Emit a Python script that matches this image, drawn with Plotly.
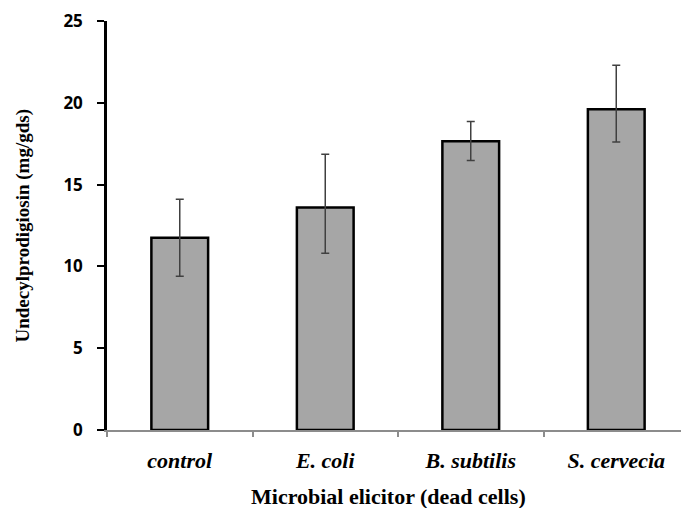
import plotly.graph_objects as go

categories = ["control", "E. coli", "B. subtilis", "S. cervecia"]
values = [11.75, 13.6, 17.65, 19.6]
err_plus = [2.35, 3.25, 1.2, 2.7]
err_minus = [2.35, 2.8, 1.17, 2.0]
y_ticks = [0, 5, 10, 15, 20, 25]

fig = go.Figure()
fig.add_trace(go.Bar(
    x=categories, y=values, width=0.39,
    marker=dict(color="#a6a6a6", line=dict(color="black", width=2.5)),
    error_y=dict(type="data", symmetric=False, array=err_plus, arrayminus=err_minus,
                 color="#404040", thickness=1.5, width=4),
))

# page body has an 8px margin, so the figure is sized 681x500
fig.update_layout(
    width=681, height=500,
    margin=dict(l=99, r=0, t=13, b=78, autoexpand=False),
    plot_bgcolor="white", paper_bgcolor="white",
    showlegend=False,
    xaxis=dict(
        type="category", range=[-0.5, 3.5],
        showline=True, linecolor="#8c8c8c", linewidth=2,
        ticks="outside", tickson="boundaries", ticklen=5, tickcolor="#8c8c8c", tickwidth=2,
        tickfont=dict(family="Liberation Serif", size=22, color="black", style="italic", weight="bold"),
        ticklabelstandoff=10, showgrid=False,
    ),
    yaxis=dict(
        range=[0, 25], tickvals=y_ticks,
        showline=True, linecolor="black", linewidth=2.5,
        ticks="outside", ticklen=7, tickcolor="black", tickwidth=2,
        tickfont=dict(family="Open Sans", size=17, color="black", weight="bold"),
        showgrid=False, zeroline=False, ticklabelstandoff=11,
    ),
)

fig.add_annotation(text="Microbial elicitor (dead cells)", xref="paper", yref="paper",
                   x=0.483, y=-0.162, yanchor="middle", showarrow=False,
                   font=dict(family="Liberation Serif", size=22, color="black", weight="bold"))
fig.add_annotation(text="Undecylprodigiosin (mg/gds)", xref="paper", yref="paper",
                   x=-0.146, y=0.5, xanchor="center", yanchor="middle", textangle=-90, showarrow=False,
                   font=dict(family="Liberation Serif", size=19, color="black", weight="bold"))

fig.write_html("out.html")
